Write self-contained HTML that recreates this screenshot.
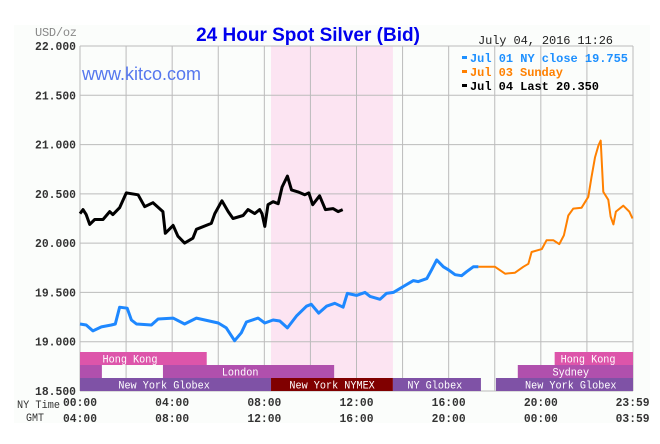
<!DOCTYPE html>
<html><head><meta charset="utf-8"><style>
html,body{margin:0;padding:0;background:#fff;}
svg{display:block;}
text{font-family:"Liberation Mono",monospace;}
</style></head><body>
<svg id="chart" width="660" height="444" viewBox="0 0 660 444" xmlns="http://www.w3.org/2000/svg">
<rect x="14" y="25" width="636" height="398" fill="#fbfdfb"/>
<g id="bands"></g>
<g id="grid"></g>
<g id="sessions"></g>
<g id="series"></g>
<g id="labels"></g>
<text x="308" y="41" text-anchor="middle" fill="#0000ee" style="font-family:'Liberation Sans',sans-serif;font-weight:bold;font-size:19px;">24 Hour Spot Silver (Bid)</text>
<text x="35" y="36" fill="#888" font-size="12" textLength="42">USD/oz</text>
<text x="478" y="44" fill="#222" font-size="12" textLength="135">July 04, 2016 11:26</text>
<text x="82" y="80" fill="#5577ee" style="font-family:'Liberation Sans',sans-serif;font-size:18px;">www.kitco.com</text>
<g font-size="12" font-weight="bold">
<rect x="462" y="56" width="5" height="3" fill="#1e90ff"/><text x="470" y="62" fill="#1e90ff" textLength="158">Jul 01 NY close 19.755</text>
<rect x="462" y="70" width="5" height="3" fill="#ff8000"/><text x="470" y="76" fill="#ff8000" textLength="93">Jul 03 Sunday</text>
<rect x="462" y="84" width="5" height="3" fill="#000"/><text x="470" y="90" fill="#000" textLength="129">Jul 04 Last 20.350</text>
</g>
</svg>
<script>
const yTicks = [22.0, 21.5, 21.0, 20.5, 20.0, 19.5, 19.0, 18.5];
const yTickLabels = ["22.000","21.500","21.000","20.500","20.000","19.500","19.000","18.500"];
const xTickHours = [0,4,8,12,16,20,23.983];
const nyLabels = ["00:00","04:00","08:00","12:00","16:00","20:00","23:59"];
const gmtLabels = ["04:00","08:00","12:00","16:00","20:00","00:00","03:59"];
const jul01Hours = [0,0.27,0.56,0.93,1.36,1.53,1.72,2.05,2.23,2.45,3.1,3.39,4.04,4.54,5.05,6.0,6.35,6.71,7.0,7.22,7.73,8.02,8.38,8.67,9.0,9.39,9.83,10.04,10.36,10.7,11.06,11.42,11.6,12.0,12.37,12.59,13.02,13.3,13.6,14.03,14.32,14.47,14.68,15.05,15.26,15.48,15.77,15.99,16.28,16.56,16.78,17.07,17.29];
const jul01Values = [19.18,19.17,19.11,19.15,19.17,19.18,19.35,19.34,19.22,19.18,19.17,19.23,19.24,19.18,19.24,19.19,19.14,19.01,19.09,19.20,19.24,19.19,19.22,19.21,19.14,19.26,19.36,19.38,19.29,19.36,19.39,19.35,19.49,19.47,19.50,19.46,19.43,19.49,19.50,19.56,19.60,19.62,19.61,19.64,19.73,19.83,19.76,19.73,19.68,19.67,19.71,19.76,19.76];
const jul03Hours = [17.29,18.01,18.45,18.88,19.24,19.46,19.6,20.04,20.25,20.54,20.8,21.0,21.19,21.41,21.77,22.06,22.2,22.35,22.5,22.6,22.71,22.93,23.03,23.15,23.26,23.58,23.84,23.98];
const jul03Values = [19.76,19.76,19.69,19.70,19.76,19.79,19.91,19.94,20.03,20.03,19.99,20.08,20.28,20.35,20.36,20.47,20.67,20.87,20.99,21.04,20.52,20.44,20.27,20.19,20.32,20.38,20.32,20.25];
const jul04Hours = [0,0.13,0.27,0.42,0.64,1.0,1.29,1.43,1.72,2.01,2.52,2.81,3.17,3.6,3.7,4.04,4.25,4.54,4.9,5.05,5.7,5.85,6.16,6.43,6.64,7.08,7.29,7.58,7.8,7.9,8.02,8.16,8.38,8.6,8.77,9.0,9.18,9.46,9.75,9.93,10.1,10.4,10.65,10.98,11.2,11.4];
const jul04Values = [20.30,20.34,20.29,20.19,20.24,20.24,20.32,20.29,20.36,20.51,20.49,20.37,20.41,20.32,20.10,20.18,20.07,20.00,20.05,20.14,20.20,20.30,20.43,20.32,20.25,20.28,20.34,20.30,20.34,20.30,20.17,20.39,20.42,20.40,20.57,20.68,20.54,20.52,20.49,20.51,20.39,20.48,20.34,20.35,20.32,20.34];

const L=80,R=633,T=46,B=391;
const X=h=>L+(R-L)*h/24;
const Y=v=>T+(22-v)*(B-T)/3.5;
const NS="http://www.w3.org/2000/svg";
function mk(tag,parent,attrs){const e=document.createElementNS(NS,tag);for(const k in attrs)e.setAttribute(k,attrs[k]);parent.appendChild(e);return e;}

const bands=document.getElementById('bands');
const pink=mk('rect',bands,{x:X(8.29),y:T,width:X(13.58)-X(8.29),height:B-T,fill:'#fce4f2'});



const grid=document.getElementById('grid');
for(let h=0;h<=24;h+=2){const l=mk('line',grid,{x1:X(h),x2:X(h),y1:T,y2:B,stroke:'#bbb','stroke-width':1});

}
yTicks.forEach(v=>{const l=mk('line',grid,{x1:L,x2:R,y1:Y(v),y2:Y(v),stroke:'#bbb','stroke-width':1});

});

const ses=document.getElementById('sessions');
const rowH=13;
const sessionBlocks=[
 [0,5.5,0,'#dd55aa'],[20.6,24,0,'#dd55aa'],
 [0,0.95,1,'#b050ad'],[3.6,11.03,1,'#b050ad'],[19.0,24,1,'#b050ad'],
 [0,8.29,2,'#7f52a6'],[8.29,13.58,2,'#800000'],[13.58,17.4,2,'#7f52a6'],[18.05,24,2,'#7f52a6']];
sessionBlocks.forEach(s=>{const y=B-39+s[2]*rowH;
 const r=mk('rect',ses,{x:X(s[0]),y:y,width:X(s[1])-X(s[0]),height:rowH,fill:s[3]});
 
 
});
const sesLabels=[[2.17,0,'Hong Kong'],[22.05,0,'Hong Kong'],[6.95,1,'London'],[21.3,1,'Sydney'],[3.65,2,'New York Globex'],[10.94,2,'New York NYMEX'],[15.4,2,'NY Globex'],[21.3,2,'New York Globex']];
sesLabels.forEach(s=>{const t=mk('text',ses,{x:X(s[0]),y:B-39+s[1]*rowH+10.5,'text-anchor':'middle',fill:'#fff','font-size':11,textLength:(s[2].length*6.1).toFixed(1),lengthAdjust:'spacingAndGlyphs'});t.textContent=s[2];
 
 });

const ser=document.getElementById('series');
function line(hs,vs,color,w,name){const d=hs.map((h,i)=>(i?'L':'M')+X(h).toFixed(1)+','+Y(vs[i]).toFixed(1)).join('');
 const p=mk('path',ser,{d:d,fill:'none',stroke:color,'stroke-width':w,'stroke-linejoin':'round'});
 
 }
line(jul01Hours,jul01Values,'#1e88ff',3,'jul01-series');
line(jul03Hours,jul03Values,'#ff8000',2,'jul03-series');
line(jul04Hours,jul04Values,'#000',3,'jul04-series');

const lab=document.getElementById('labels');
yTicks.forEach((v,i)=>{const t=mk('text',lab,{x:76,y:Y(v)+4,'text-anchor':'end',fill:'#333','font-size':12,'font-weight':'bold',textLength:41,lengthAdjust:'spacingAndGlyphs'});t.textContent=yTickLabels[i];
 
 });
xTickHours.forEach((h,i)=>{
 const a=mk('text',lab,{x:X(h),y:406,'text-anchor':'middle',fill:'#333','font-size':12,'font-weight':'bold',textLength:34,lengthAdjust:'spacingAndGlyphs'});a.textContent=nyLabels[i];
 
 
 const b=mk('text',lab,{x:X(h),y:422,'text-anchor':'middle',fill:'#333','font-size':12,'font-weight':'bold',textLength:34,lengthAdjust:'spacingAndGlyphs'});b.textContent=gmtLabels[i];
 
 });
const ny=mk('text',lab,{x:17,y:408,fill:'#333','font-size':11,textLength:43,lengthAdjust:'spacingAndGlyphs'});ny.textContent='NY Time';


const gm=mk('text',lab,{x:26,y:421,fill:'#333','font-size':11,textLength:18,lengthAdjust:'spacingAndGlyphs'});gm.textContent='GMT';


</script>
</body></html>
